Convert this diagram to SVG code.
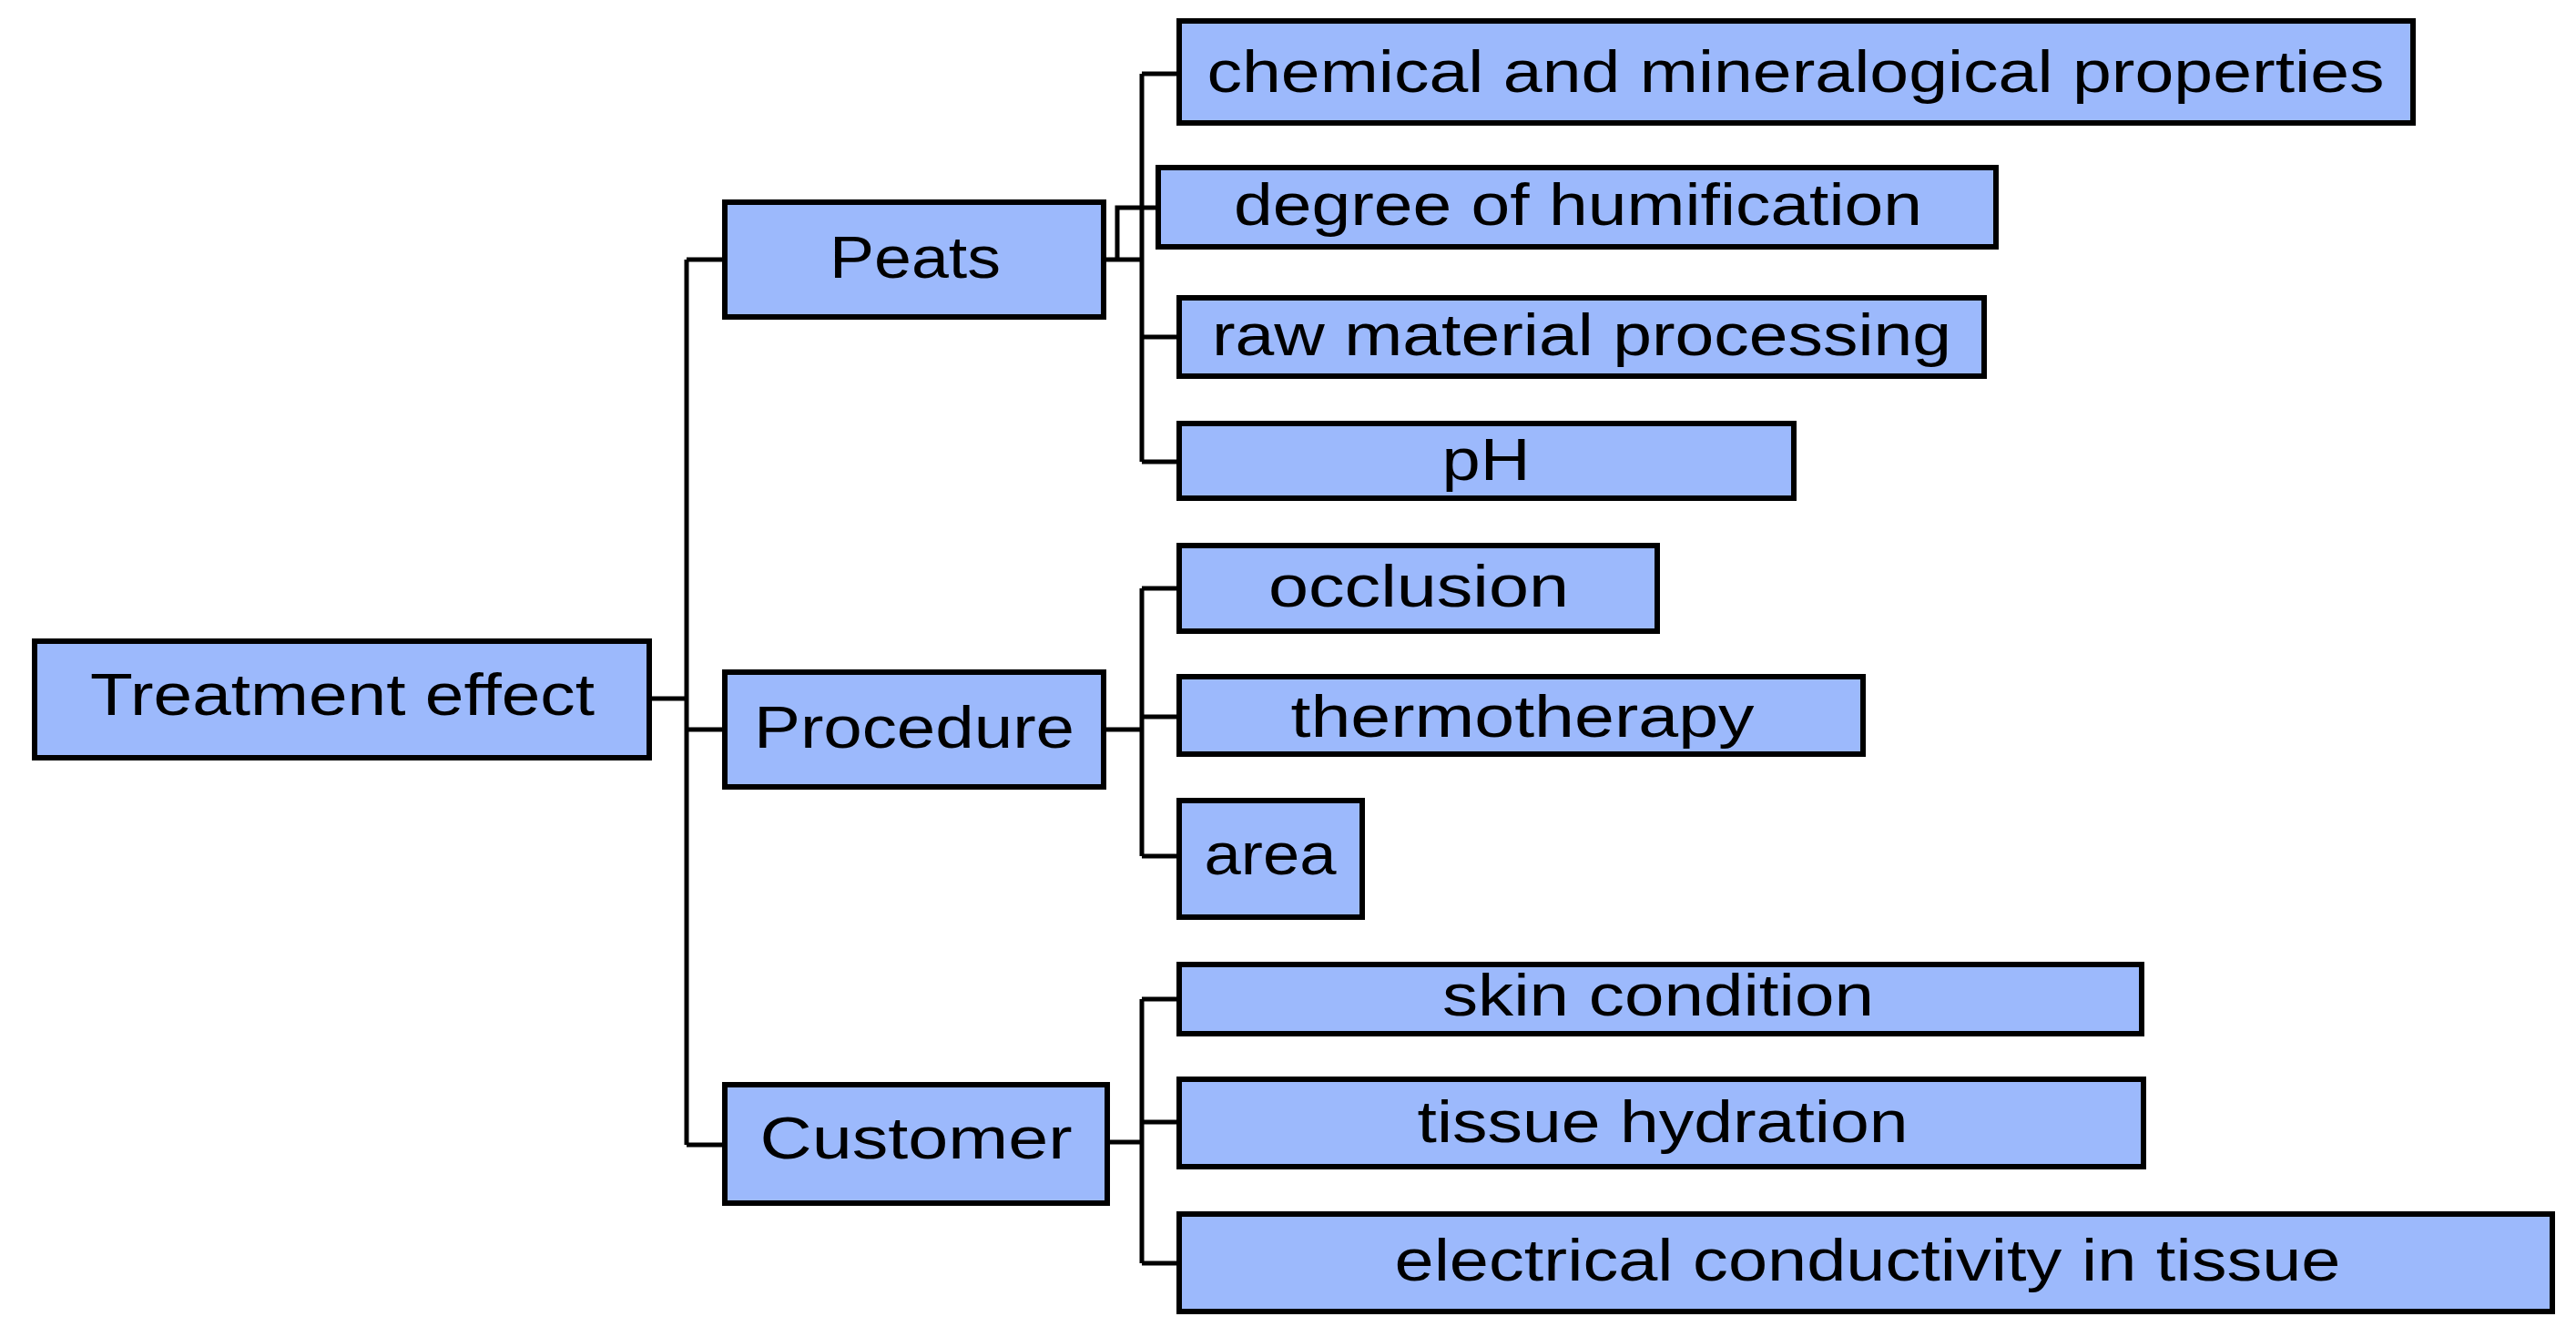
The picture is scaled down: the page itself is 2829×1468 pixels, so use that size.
<svg xmlns="http://www.w3.org/2000/svg" width="2829" height="1468" viewBox="0 0 2829 1468">
<style>
.box{fill:#9cb9fc;stroke:#000;stroke-width:6}
.t{font-family:"Liberation Sans",Arial,sans-serif;font-size:64px;fill:#000;text-anchor:middle;dominant-baseline:central}
.c{fill:none;stroke:#000;stroke-width:5}
</style>
<rect width="2829" height="1468" fill="#fff"/>
<g id="connectors">
<path class="c" d="M713,767 H754 M754,285 V1257 M754,285 H796 M754,801 H796 M754,1257 H796"/>
<path class="c" d="M1212,285 H1254 M1254,81 V507 M1254,81 H1295 M1227,285 V228 H1272 M1254,370 H1295 M1254,507 H1295"/>
<path class="c" d="M1212,801 H1254 M1254,646 V940 M1254,646 H1295 M1254,787 H1295 M1254,940 H1295"/>
<path class="c" d="M1216,1254 H1254 M1254,1097 V1387 M1254,1097 H1295 M1254,1232 H1295 M1254,1387 H1295"/>
</g>
<g id="treatment"><rect class="box" x="38" y="704" width="675" height="128"/><text class="t" x="376" y="763" textLength="554" lengthAdjust="spacingAndGlyphs">Treatment effect</text></g>
<g id="peats"><rect class="box" x="796" y="222" width="416" height="126"/><text class="t" x="1005" y="283" textLength="188" lengthAdjust="spacingAndGlyphs">Peats</text></g>
<g id="procedure"><rect class="box" x="796" y="738" width="416" height="126"/><text class="t" x="1004" y="799" textLength="352" lengthAdjust="spacingAndGlyphs">Procedure</text></g>
<g id="customer"><rect class="box" x="796" y="1191" width="420" height="130"/><text class="t" x="1006" y="1250" textLength="343" lengthAdjust="spacingAndGlyphs">Customer</text></g>
<g id="chemical"><rect class="box" x="1295" y="23" width="1355" height="112"/><text class="t" x="1972" y="79" textLength="1293" lengthAdjust="spacingAndGlyphs">chemical and mineralogical properties</text></g>
<g id="degree"><rect class="box" x="1272" y="184" width="920" height="87"/><text class="t" x="1733" y="225" textLength="756" lengthAdjust="spacingAndGlyphs">degree of humification</text></g>
<g id="raw"><rect class="box" x="1295" y="327" width="884" height="86"/><text class="t" x="1737" y="368" textLength="812" lengthAdjust="spacingAndGlyphs">raw material processing</text></g>
<g id="ph"><rect class="box" x="1295" y="465" width="675" height="82"/><text class="t" x="1632" y="505" textLength="97" lengthAdjust="spacingAndGlyphs">pH</text></g>
<g id="occlusion"><rect class="box" x="1295" y="599" width="525" height="94"/><text class="t" x="1558" y="644" textLength="330" lengthAdjust="spacingAndGlyphs">occlusion</text></g>
<g id="thermotherapy"><rect class="box" x="1295" y="743" width="751" height="85"/><text class="t" x="1672" y="787" textLength="509" lengthAdjust="spacingAndGlyphs">thermotherapy</text></g>
<g id="area"><rect class="box" x="1295" y="879" width="201" height="128"/><text class="t" x="1395" y="938" textLength="145" lengthAdjust="spacingAndGlyphs">area</text></g>
<g id="skin"><rect class="box" x="1295" y="1059" width="1057" height="76"/><text class="t" x="1821" y="1093" textLength="474" lengthAdjust="spacingAndGlyphs">skin condition</text></g>
<g id="tissue"><rect class="box" x="1295" y="1185" width="1059" height="96"/><text class="t" x="1826" y="1232" textLength="539" lengthAdjust="spacingAndGlyphs">tissue hydration</text></g>
<g id="electrical"><rect class="box" x="1295" y="1333" width="1508" height="107"/><text class="t" x="2051" y="1384" textLength="1039" lengthAdjust="spacingAndGlyphs">electrical conductivity in tissue</text></g>
</svg>
